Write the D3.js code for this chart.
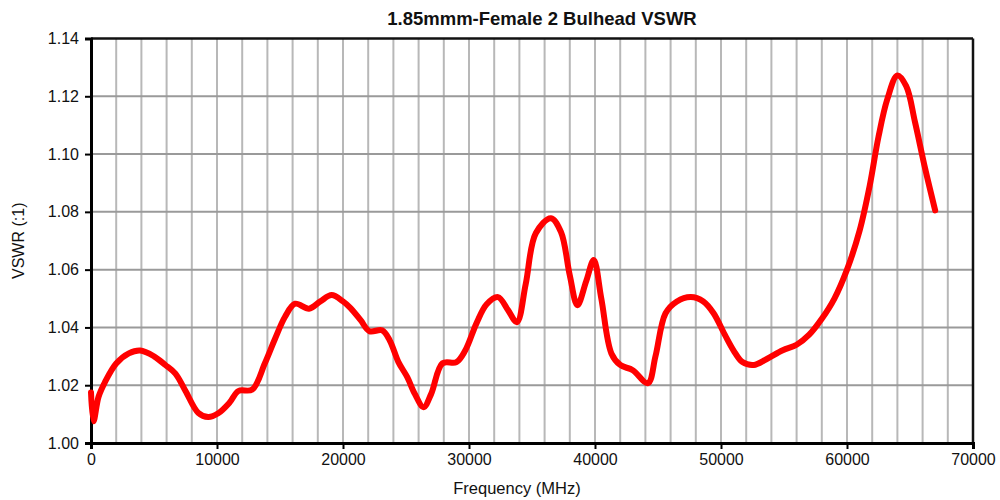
<!DOCTYPE html>
<html><head><meta charset="utf-8">
<script src="https://cdn.jsdelivr.net/npm/d3@7"></script>
<style>body{margin:0;background:#fff}svg{display:block;font-family:"Liberation Sans",Arial,sans-serif}</style>
</head><body><svg id="c" width="1000" height="500"></svg>
<script>
const freq = [0,200,600,1100,2000,3000,3900,5000,5900,6700,7500,8500,9300,10100,11000,11700,12800,13800,14600,15400,16200,17300,18200,19100,20000,20600,21400,22100,23100,23700,24400,25100,25700,26400,27000,27900,29000,29700,30600,31400,32300,33100,33800,34500,35300,36500,37300,38000,38600,39300,39900,40500,41300,42000,43000,44200,44800,45600,46500,47600,48600,49400,50300,51000,51700,52600,53600,54900,56000,57000,58000,59000,60000,61000,61800,62500,63200,64000,64700,65400,66200,67000];
const vswr = [1.0175,1.0075,1.016,1.021,1.0275,1.031,1.032,1.030,1.027,1.024,1.018,1.0105,1.009,1.0103,1.014,1.018,1.0185,1.0276,1.036,1.0437,1.0482,1.0465,1.049,1.0512,1.049,1.0467,1.0425,1.0387,1.039,1.0356,1.028,1.0228,1.017,1.0124,1.017,1.0276,1.028,1.032,1.0415,1.048,1.0505,1.046,1.0418,1.055,1.0726,1.0778,1.073,1.058,1.0477,1.056,1.0633,1.05,1.031,1.027,1.0252,1.0207,1.03,1.0449,1.049,1.0505,1.049,1.045,1.0375,1.032,1.028,1.027,1.029,1.0321,1.034,1.0375,1.043,1.050,1.060,1.0735,1.089,1.106,1.119,1.1272,1.1235,1.111,1.095,1.0805];
const xTicks = [0,10000,20000,30000,40000,50000,60000,70000];
const yTicks = [1.00,1.02,1.04,1.06,1.08,1.10,1.12,1.14];
const title = "1.85mmm-Female 2 Bulhead VSWR";
const xLabel = "Frequency (MHz)";
const yLabel = "VSWR (:1)";

const svg = d3.select("#c");
const L=91, R=973, T=38.5, B=443;
const x = d3.scaleLinear().domain([0,70000]).range([L,R]);
const y = d3.scaleLinear().domain([1.00,1.14]).range([B,T]);

svg.append("g").selectAll("line").data(d3.range(2000,70000,2000)).join("line")
  .attr("x1",d=>x(d)).attr("x2",d=>x(d)).attr("y1",T).attr("y2",B)
  .attr("stroke","#b8b8b8").attr("stroke-width",2);
svg.append("g").selectAll("line").data(yTicks.slice(1,-1)).join("line")
  .attr("x1",L).attr("x2",R).attr("y1",d=>y(d)).attr("y2",d=>y(d))
  .attr("stroke","#9a9a9a").attr("stroke-width",2);

svg.append("line").attr("x1",L).attr("x2",R).attr("y1",T).attr("y2",T).attr("stroke","#111").attr("stroke-width",2.5);
svg.append("line").attr("x1",R).attr("x2",R).attr("y1",T).attr("y2",B).attr("stroke","#111").attr("stroke-width",2.5);

const xa = svg.append("g").attr("transform",`translate(0,${B})`)
  .call(d3.axisBottom(x).tickValues(xTicks).tickFormat(d3.format("d")).tickSize(6).tickPadding(5));
const ya = svg.append("g").attr("transform",`translate(${L},0)`)
  .call(d3.axisLeft(y).tickValues(yTicks).tickFormat(d3.format(".2f")).tickSize(6).tickPadding(6));
[xa,ya].forEach(a=>{
  a.select(".domain").attr("stroke","#000").attr("stroke-width",3);
  a.selectAll(".tick line").attr("stroke","#000").attr("stroke-width",2);
  a.selectAll("text").attr("font-size",16).attr("fill","#111").attr("font-family","Liberation Sans, Arial, sans-serif");
});

const pts = freq.map((f,i)=>[f,vswr[i]]);
svg.append("path").datum(pts)
  .attr("d", d3.line().x(d=>x(d[0])).y(d=>y(d[1])).curve(d3.curveCatmullRom.alpha(0.5)))
  .attr("fill","none").attr("stroke","#ff0000").attr("stroke-width",6)
  .attr("stroke-linejoin","round").attr("stroke-linecap","round");

svg.append("text").attr("x",542).attr("y",25).attr("text-anchor","middle")
  .attr("font-size",18.5).attr("font-weight","bold").attr("fill","#111").text(title);
svg.append("text").attr("x",517).attr("y",494).attr("text-anchor","middle")
  .attr("font-size",16.5).attr("fill","#111").text(xLabel);
svg.append("text").attr("transform",`translate(24,${(T+B)/2}) rotate(-90)`).attr("text-anchor","middle")
  .attr("font-size",16).attr("fill","#111").text(yLabel);
</script></body></html>
